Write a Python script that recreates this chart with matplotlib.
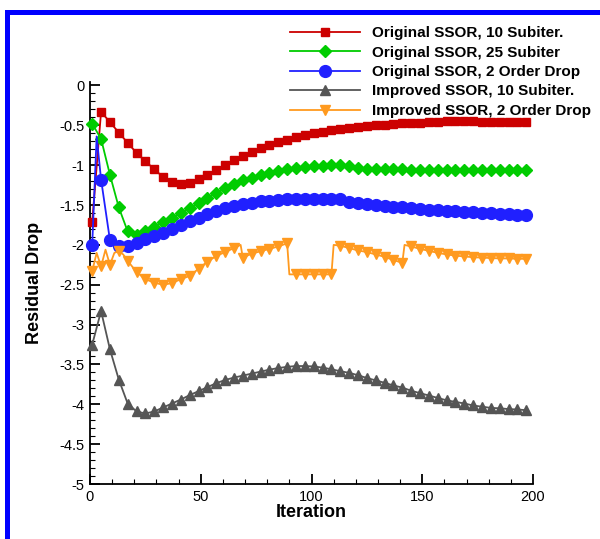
import matplotlib
matplotlib.use("Agg")
import matplotlib.pyplot as plt
from matplotlib.patches import Rectangle
from matplotlib.ticker import MultipleLocator

plt.rcParams['font.family'] = ['Liberation Sans', 'DejaVu Sans']

# Iterations at which the residual was sampled (markers every 4 iterations)
iters = list(range(1, 198, 4))

red_val = [-1.71, -0.33, -0.46, -0.59, -0.72, -0.845, -0.95, -1.05, -1.15, -1.21,
           -1.235, -1.225, -1.17, -1.12, -1.06, -1.00, -0.94, -0.885, -0.835, -0.79,
           -0.75, -0.715, -0.68, -0.65, -0.625, -0.60, -0.58, -0.56, -0.545, -0.53,
           -0.52, -0.51, -0.50, -0.49, -0.48, -0.475, -0.47, -0.465, -0.46, -0.455,
           -0.45, -0.45, -0.445, -0.45, -0.455, -0.455, -0.46, -0.46, -0.46, -0.46]

green_val = [-0.48, -0.67, -1.12, -1.53, -1.83, -1.87, -1.83, -1.77, -1.71, -1.66,
             -1.60, -1.54, -1.48, -1.41, -1.35, -1.29, -1.235, -1.19, -1.155, -1.125,
             -1.095, -1.07, -1.05, -1.035, -1.02, -1.01, -1.005, -1.00, -1.00, -1.01,
             -1.03, -1.045, -1.05, -1.05, -1.05, -1.05, -1.055, -1.055, -1.055, -1.055,
             -1.055, -1.055, -1.06, -1.06, -1.06, -1.06, -1.06, -1.06, -1.06, -1.06]

blue_iter = [1, 3] + iters[1:]
blue_val = [-2.00, -0.64, -1.18, -1.94, -2.01, -2.01, -1.97, -1.93, -1.89, -1.85,
            -1.80, -1.75, -1.70, -1.66, -1.61, -1.575, -1.54, -1.51, -1.49, -1.47,
            -1.455, -1.445, -1.435, -1.43, -1.425, -1.42, -1.42, -1.42, -1.42, -1.43,
            -1.46, -1.48, -1.49, -1.50, -1.51, -1.52, -1.53, -1.54, -1.55, -1.56,
            -1.565, -1.57, -1.58, -1.585, -1.59, -1.60, -1.605, -1.61, -1.615, -1.62,
            -1.625]

gray_val = [-3.25, -2.83, -3.31, -3.69, -3.99, -4.09, -4.115, -4.09, -4.04, -3.99,
            -3.94, -3.885, -3.835, -3.785, -3.735, -3.695, -3.665, -3.64, -3.615, -3.59,
            -3.565, -3.545, -3.53, -3.52, -3.52, -3.525, -3.54, -3.56, -3.585, -3.605,
            -3.635, -3.67, -3.70, -3.73, -3.764, -3.79, -3.83, -3.86, -3.89, -3.92,
            -3.95, -3.97, -3.99, -4.015, -4.03, -4.045, -4.05, -4.06, -4.065, -4.074]

orange_iter = [1, 3, 5, 7, 9, 11, 13, 15, 17, 19, 21, 25, 29, 33, 37, 41, 45, 49,
               53, 57, 61, 65, 68, 69, 73, 77, 81, 85, 89, 90, 93, 97, 101, 105, 109,
               110, 113, 117, 121, 125, 129, 133, 137, 141, 142, 145, 149, 153, 157,
               161, 165, 169, 173, 177, 181, 185, 189, 193, 197]
orange_val = [-2.33, -2.10, -2.27, -2.06, -2.25, -2.10, -2.08, -2.12, -2.20, -2.27,
              -2.34, -2.43, -2.475, -2.50, -2.48, -2.43, -2.39, -2.30, -2.21, -2.14,
              -2.09, -2.04, -2.00, -2.16, -2.11, -2.08, -2.05, -2.02, -1.98, -2.37,
              -2.37, -2.37, -2.37, -2.37, -2.37, -2.00, -2.01, -2.04, -2.07, -2.09,
              -2.12, -2.15, -2.19, -2.225, -2.00, -2.02, -2.05, -2.075, -2.10, -2.12,
              -2.135, -2.145, -2.155, -2.16, -2.165, -2.17, -2.17, -2.175, -2.175]

labels = ["Original SSOR, 10 Subiter.", "Original SSOR, 25 Subiter",
          "Original SSOR, 2 Order Drop", "Improved SSOR, 10 Subiter.",
          "Improved SSOR, 2 Order Drop"]


def marked(xs):
    return [i for i, x in enumerate(xs) if (x - 1) % 4 == 0]


fig = plt.figure(figsize=(6.0, 5.39), dpi=100)
fig.patch.set_facecolor('white')
ax = fig.add_axes([90 / 600, 55 / 539, 443 / 600, 402.5 / 539])

lw = 1.3
ax.plot(iters, red_val, color='#cc0000', lw=lw, marker='s', ms=6.3,
        mec='#cc0000', label=labels[0], clip_on=False, zorder=3)
ax.plot(iters, green_val, color='#00cc00', lw=lw, marker='D', ms=6.3,
        mec='#00cc00', label=labels[1], clip_on=False, zorder=3)
ax.plot(blue_iter, blue_val, color='#2020ff', lw=lw, marker='o', ms=8.5,
        mec='#2020ff', markevery=marked(blue_iter), label=labels[2],
        clip_on=False, zorder=3)
ax.plot(iters, gray_val, color='#555555', lw=lw, marker='^', ms=7,
        mec='#555555', label=labels[3], clip_on=False, zorder=3)
ax.plot(orange_iter, orange_val, color='#ff9a1f', lw=lw, marker='v', ms=6.5,
        mec='#ff9a1f', markevery=marked(orange_iter), label=labels[4],
        clip_on=False, zorder=3)

ax.set_xlim(0, 200)
ax.set_ylim(-5, 0.05)
for s in ('top', 'right'):
    ax.spines[s].set_visible(False)
for s in ('left', 'bottom'):
    ax.spines[s].set_linewidth(1.3)

ax.xaxis.set_major_locator(MultipleLocator(50))
ax.xaxis.set_minor_locator(MultipleLocator(10))
ax.yaxis.set_major_locator(MultipleLocator(0.5))
ax.yaxis.set_minor_locator(MultipleLocator(0.1))
ax.tick_params(which='major', direction='in', length=7, width=1.3,
               labelsize=10.5, pad=4, top=False, right=False)
ax.tick_params(which='minor', direction='in', length=3.5, width=0.8,
               top=False, right=False)
ax.set_yticks([0, -0.5, -1, -1.5, -2, -2.5, -3, -3.5, -4, -4.5, -5])
ax.set_yticklabels(['0', '-0.5', '-1', '-1.5', '-2', '-2.5', '-3', '-3.5',
                    '-4', '-4.5', '-5'])

ax.set_xlabel("Iteration", fontsize=13, fontweight='bold', va='center')
ax.set_ylabel("Residual Drop", fontsize=13, fontweight='bold', va='center')
ax.xaxis.set_label_coords(0.5, -0.071)
ax.yaxis.set_label_coords(-0.125, 0.5)

leg = fig.legend(loc='upper left', bbox_to_anchor=(290 / 600, 1 - 26 / 539),
                 frameon=False, handlelength=4.6,
                 handletextpad=0.8, labelspacing=0.36, borderpad=0,
                 borderaxespad=0, prop={'weight': 'bold', 'size': 11})

# Blue frame around the figure
fig.patches.append(Rectangle((7 / 600, -0.05), 1.2, 1 - 11.5 / 539 + 0.05,
                             transform=fig.transFigure, fill=False,
                             edgecolor='#0000ff', linewidth=3.6, zorder=0))

fig.savefig("out.png", dpi=100)
